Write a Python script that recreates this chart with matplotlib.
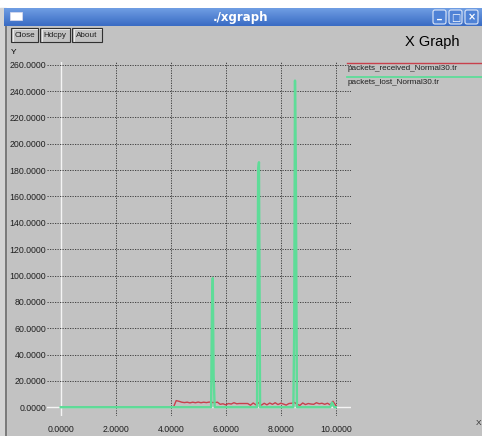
import numpy as np
import matplotlib
matplotlib.use("Agg")
import matplotlib.pyplot as plt
from matplotlib.patches import Rectangle, FancyBboxPatch

# ---- data -------------------------------------------------------------
received_t = [0.0, 4.1, 4.2, 4.3, 4.4, 4.5, 4.6, 4.7, 4.8, 4.9, 5.0, 5.1, 5.2,
              5.3, 5.4, 5.5, 5.6, 5.7, 5.8, 5.9, 6.0, 6.1, 6.2, 6.3, 6.4, 6.5,
              6.6, 6.7, 6.8, 6.9, 7.0, 7.1, 7.2, 7.3, 7.4, 7.5, 7.6, 7.7, 7.8,
              7.9, 8.0, 8.1, 8.2, 8.3, 8.4, 8.5, 8.6, 8.7, 8.8, 8.9, 9.0, 9.1,
              9.2, 9.3, 9.4, 9.5, 9.6, 9.7, 9.8, 9.9, 10.0]
received_v = [0.0, 0.0, 5.0, 4.5, 3.8, 3.5, 3.8, 3.3, 3.8, 3.4, 3.9, 3.4, 3.8,
              3.5, 3.9, 3.6, 3.5, 3.8, 2.2, 2.6, 1.8, 2.8, 2.4, 3.4, 2.6, 2.8,
              2.8, 2.8, 2.8, 1.5, 3.2, 1.8, 3.4, 1.6, 3.0, 1.8, 3.2, 2.2, 3.4,
              2.0, 3.0, 2.4, 1.6, 2.8, 3.0, 3.6, 2.2, 1.4, 3.2, 2.0, 2.8, 2.4,
              2.2, 3.4, 2.6, 3.0, 2.2, 3.0, 1.8, 4.5, 1.5]

lost_t = [0.0, 5.47, 5.50, 5.53, 5.56, 5.60, 7.14, 7.18, 7.21, 7.25,
          8.46, 8.49, 8.52, 8.55, 8.59, 9.80, 9.87, 9.95, 10.0]
lost_v = [0.0, 0.0, 74.0, 98.0, 24.0, 0.0, 0.0, 180.0, 186.0, 0.0,
          0.0, 56.0, 248.0, 185.0, 0.0, 0.0, 3.5, 0.0, 0.0]

x_ticks = [0, 2, 4, 6, 8, 10]
y_ticks = [0, 20, 40, 60, 80, 100, 120, 140, 160, 180, 200, 220, 240, 260]

legend_names = ["packets_received_Normal30.tr", "packets_lost_Normal30.tr"]
red = "#c8404c"
green = "#5edc98"
bg = "#c2c2c2"

W, H = 482, 436
fig = plt.figure(figsize=(W / 100, H / 100), dpi=100, facecolor=bg)

# ---- window chrome (pixel coordinates, origin top-left) --------------
chrome = fig.add_axes([0, 0, 1, 1])
chrome.set_xlim(0, W)
chrome.set_ylim(H, 0)
chrome.axis("off")

chrome.add_patch(Rectangle((0, 0), W, 8, color="white", zorder=1))
chrome.add_patch(Rectangle((0, 8), 6, H, color="#d4d4d4", zorder=1))
chrome.plot([6, 6], [26, H], color="#6a6a6a", lw=1.2, zorder=2)

# title bar gradient
grad = np.linspace(0, 1, 20).reshape(-1, 1)
chrome.imshow(grad, extent=(4, W, 26, 8), cmap=matplotlib.colors.LinearSegmentedColormap.from_list(
    "bar", ["#6f9de3", "#3a6cc4"]), aspect="auto", zorder=2)
chrome.add_patch(Rectangle((10, 12), 12, 8, facecolor="white", edgecolor="#dde", lw=0.5, zorder=3))
chrome.text(240, 17.5, "./xgraph", color="white", fontsize=8.5, fontweight="bold",
            ha="center", va="center", family="DejaVu Sans", zorder=4)
for bx, sym in [(433, "_"), (449, "□"), (465, "×")]:
    chrome.add_patch(FancyBboxPatch((bx, 10), 13, 14, boxstyle="round,pad=0,rounding_size=2",
                                    facecolor="#4f82d6", edgecolor="#dfe8f8", lw=0.8, zorder=3))
    chrome.text(bx + 6.5, 17.5 if sym != "_" else 15, sym, color="white", fontsize=7,
                fontweight="bold", ha="center", va="center", zorder=4)

# buttons
for (x0, x1, label) in [(11, 38, "Close"), (40, 70, "Hdcpy"), (72, 102, "About")]:
    chrome.add_patch(Rectangle((x0, 28), x1 - x0, 14, facecolor=bg, edgecolor="#303030",
                               lw=0.8, zorder=3))
    chrome.plot([x0 + 1.5, x0 + 1.5, x1 - 1.5], [41, 29.5, 29.5], color="#f0f0f0", lw=0.6, zorder=4)
    chrome.text((x0 + x1) / 2, 35.5, label, fontsize=5.9, ha="center", va="center",
                family="Liberation Sans", color="#202020", zorder=5)

chrome.text(405, 42, "X Graph", fontsize=10.5, family="Liberation Sans",
            ha="left", va="center", color="black")
chrome.text(11, 52, "Y", fontsize=6, family="Liberation Sans", ha="left", va="center")
chrome.text(476, 423, "X", fontsize=6, family="Liberation Sans", ha="left", va="center",
            color="#303030")

# legend entries
chrome.plot([347, W], [63, 63], color=red, lw=1.0, zorder=3)
chrome.text(348, 68.5, legend_names[0], fontsize=5.9, family="Liberation Sans",
            ha="left", va="center", color="#202020", zorder=5)
chrome.plot([347, W], [77, 77], color=green, lw=1.3, zorder=3)
chrome.text(348, 82, legend_names[1], fontsize=5.9, family="Liberation Sans",
            ha="left", va="center", color="#202020", zorder=5)

# ---- plot area --------------------------------------------------------
x0_px, xs = 60.7, 27.5
y0_px, ys = 407.2, 1.317
left_px, right_px, top_px, bot_px = 47, 351, 62, 416
ax = fig.add_axes([left_px / W, 1 - bot_px / H, (right_px - left_px) / W, (bot_px - top_px) / H])
ax.set_xlim((left_px - x0_px) / xs, (right_px - x0_px) / xs)
ax.set_ylim((y0_px - bot_px) / ys, (y0_px - top_px) / ys)
ax.patch.set_alpha(0)
for s in ax.spines.values():
    s.set_visible(False)

for xt in x_ticks:
    if xt == 0:
        ax.axvline(xt, color="#f4f4f4", lw=1.0, zorder=1)
    else:
        ax.axvline(xt, color="#303030", lw=0.6, dashes=(1.5, 1.5), zorder=1)
for yt in y_ticks:
    if yt == 0:
        ax.axhline(yt, color="#f4f4f4", lw=1.0, zorder=1)
    else:
        ax.axhline(yt, color="#303030", lw=0.6, dashes=(1.5, 1.5), zorder=1)

ax.plot(received_t, received_v, color=red, lw=1.0, zorder=3)
ax.plot(lost_t, lost_v, color=green, lw=1.7, zorder=4)

ax.set_xticks(x_ticks)
ax.set_yticks(y_ticks)
ax.set_xticklabels([f"{v:.4f}" for v in x_ticks], family="Liberation Sans", fontsize=6.3)
ax.set_yticklabels([f"{v:.4f}" for v in y_ticks], family="Liberation Sans", fontsize=6.3)
ax.tick_params(axis="both", length=0, colors="#202020")
ax.tick_params(axis="x", pad=6.5)
ax.tick_params(axis="y", pad=0.5)

fig.savefig("out.png", dpi=100, facecolor=bg)
